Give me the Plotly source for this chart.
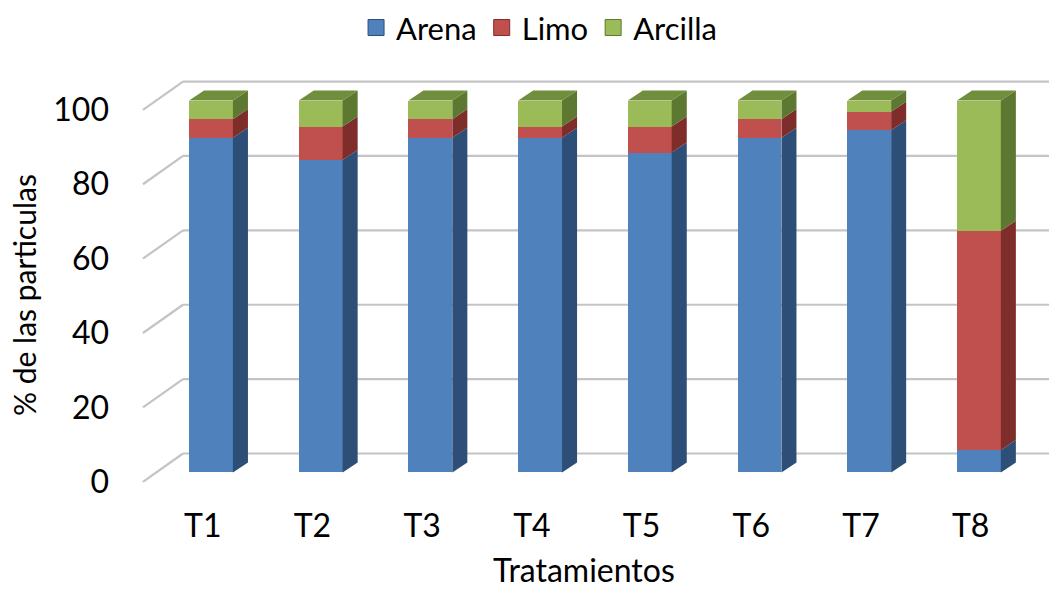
import plotly.graph_objects as go

# Soil particle-size fractions (%) per treatment
tratamientos = ["T1", "T2", "T3", "T4", "T5", "T6", "T7", "T8"]
arena = [90, 84, 90, 90, 86, 90, 92, 6]
limo = [5, 9, 5, 3, 7, 5, 5, 59]
arcilla = [5, 7, 5, 7, 7, 5, 3, 35]
y_ticks = [0, 20, 40, 60, 80, 100]

series = [
    # name, values, front, side, top
    ("Arena", arena, "#4F81BD", "#2D4E76", "#3B6499"),
    ("Limo", limo, "#C0504D", "#7E2D2B", "#993B39"),
    ("Arcilla", arcilla, "#9BBB59", "#5D7830", "#708E3C"),
]

# Pseudo-3D geometry (in axis units of the bar layer)
BAR_W = 0.4          # bar width in category slots
DEPTH_X = 0.137      # receding offset of the bar's back face
DEPTH_Y = 2.7
WALL_DY = 5.1        # back wall offset relative to bar front
FLOOR_DY = -2.5      # front edge of floor relative to bar front
FLOOR_X = 0.38       # left front corner of the side wall
WALL_X = 0.745       # left back corner of the side wall

X_RANGE = [0.353, 8.639]
Y_RANGE = [-7.4, 110.9]
LABEL_SHIFT_X = 0.075

xpos = list(range(1, len(tratamientos) + 1))

fig = go.Figure()

# Front faces: stacked bars
for name, vals, front, side, top in series:
    fig.add_trace(go.Bar(
        x=xpos, y=vals, name=name, width=BAR_W,
        marker=dict(color=front, line=dict(width=0)),
        xaxis="x2", yaxis="y2", showlegend=False,
    ))

# Side faces and top faces as filled polygons
bases = [0.0] * len(xpos)
top_poly = {}
for name, vals, front, side, top in series:
    sx, sy = [], []
    for i, (c, v) in enumerate(zip(xpos, vals)):
        b0 = bases[i]
        b1 = b0 + v
        if v > 0:
            r = c + BAR_W / 2
            sx += [r, r + DEPTH_X, r + DEPTH_X, r, r, None]
            sy += [b0, b0 + DEPTH_Y, b1 + DEPTH_Y, b1, b0, None]
            top_poly[i] = (name, b1)
        bases[i] = b1
    fig.add_trace(go.Scatter(
        x=sx, y=sy, mode="lines", fill="toself", fillcolor=side,
        line=dict(width=0, color=side), hoverinfo="skip",
        xaxis="x2", yaxis="y2", showlegend=False,
    ))

top_colors = {s[0]: s[4] for s in series}
for name in top_colors:
    tx, ty = [], []
    for i, (nm, h) in top_poly.items():
        if nm != name:
            continue
        c = xpos[i]
        l, r = c - BAR_W / 2, c + BAR_W / 2
        tx += [l, l + DEPTH_X, r + DEPTH_X, r, l, None]
        ty += [h, h + DEPTH_Y, h + DEPTH_Y, h, h, None]
    if tx:
        fig.add_trace(go.Scatter(
            x=tx, y=ty, mode="lines", fill="toself",
            fillcolor=top_colors[name],
            line=dict(width=0, color=top_colors[name]), hoverinfo="skip",
            xaxis="x2", yaxis="y2", showlegend=False,
        ))

# Legend entries
for name, vals, front, side, top in series:
    fig.add_trace(go.Scatter(
        x=[None], y=[None], mode="markers", name=name,
        marker=dict(symbol="square", size=16, color=front,
                    line=dict(width=1, color=side)),
        xaxis="x2", yaxis="y2",
    ))

# Empty trace so the label axes are drawn
fig.add_trace(go.Scatter(x=[None], y=[None], xaxis="x", yaxis="y",
                         showlegend=False, hoverinfo="skip"))

# Back-wall gridlines and side-wall diagonals
GRID = "#C4C4C4"
for v in y_ticks:
    fig.add_shape(type="line", xref="x2", yref="y2", layer="below",
                  x0=WALL_X, x1=X_RANGE[1], y0=v + WALL_DY, y1=v + WALL_DY,
                  line=dict(color=GRID, width=2.2))
    fig.add_shape(type="line", xref="x2", yref="y2", layer="below",
                  x0=FLOOR_X, x1=WALL_X, y0=v + FLOOR_DY, y1=v + WALL_DY,
                  line=dict(color=GRID, width=2.2))

FONT = "Lato, 'Open Sans', sans-serif"

fig.update_layout(
    width=1049, height=590,
    margin=dict(l=140, r=0, t=60, b=90),
    paper_bgcolor="white", plot_bgcolor="white",
    font=dict(family=FONT, color="#000000"),
    barmode="stack", bargap=0,
    xaxis=dict(
        range=[X_RANGE[0] + LABEL_SHIFT_X, X_RANGE[1] + LABEL_SHIFT_X],
        tickvals=xpos, ticktext=tratamientos,
        tickfont=dict(size=32, family=FONT, color="#000000"),
        showgrid=False, zeroline=False, showline=False,
        ticks="", ticklabelstandoff=4, fixedrange=True,
    ),
    yaxis=dict(
        range=[Y_RANGE[0] - FLOOR_DY, Y_RANGE[1] - FLOOR_DY],
        tickvals=y_ticks,
        tickfont=dict(size=32, family=FONT, color="#000000"),
        showgrid=False, zeroline=False, showline=False,
        ticks="", ticklabelstandoff=30, fixedrange=True,
    ),
    xaxis2=dict(range=X_RANGE, overlaying="x", visible=False),
    yaxis2=dict(range=Y_RANGE, overlaying="y", visible=False),
    legend=dict(
        orientation="h", x=0.439, xanchor="center", y=1.073,
        yanchor="middle", font=dict(size=31, family=FONT, color="#000000"),
        itemwidth=30, traceorder="normal",
    ),
    annotations=[
        dict(text="Tratamientos", xref="paper", yref="paper",
             x=0.4884, y=-0.158, xanchor="center", yanchor="middle",
             showarrow=False, font=dict(size=32, family=FONT, color="#000000")),
        dict(text="% de las particulas", xref="paper", yref="paper",
             x=-0.1276, y=0.466, xanchor="center", yanchor="middle",
             textangle=-90, showarrow=False,
             font=dict(size=30, family=FONT, color="#000000")),
    ],
)

fig.write_html("out.html")
